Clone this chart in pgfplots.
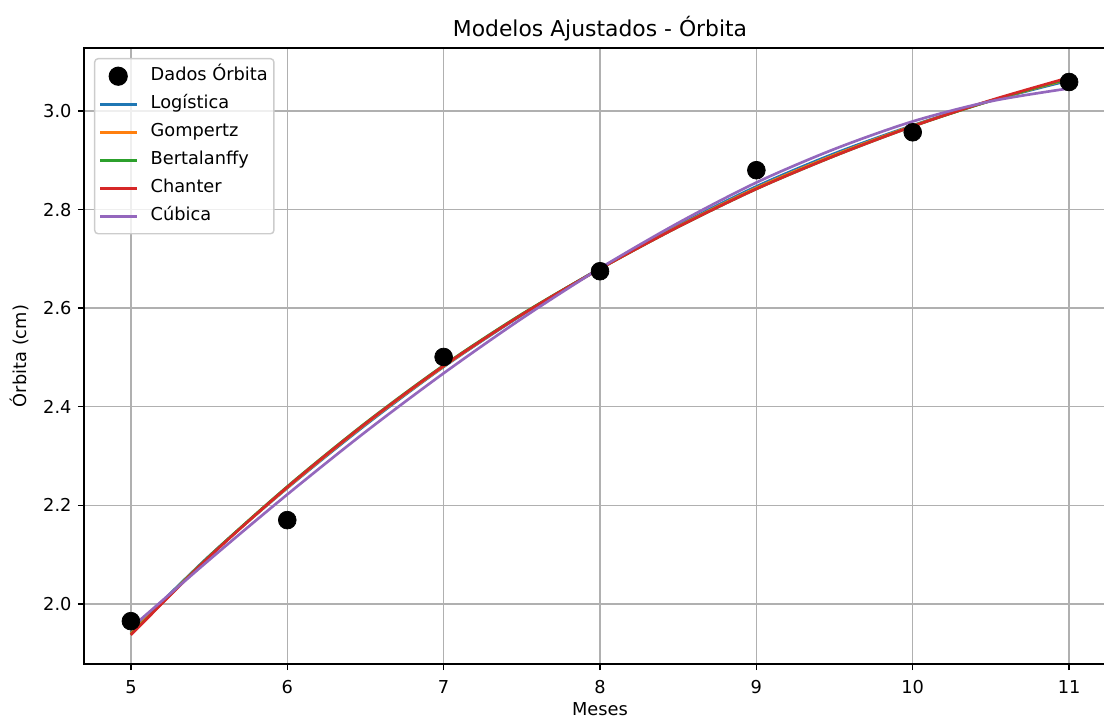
\documentclass[border=0pt]{standalone}
\usepackage{fontspec}
\setmainfont{DejaVu Sans}
\usepackage{pgfplots}
\pgfplotsset{compat=1.18}
\usepackage{pgfplotstable}

\definecolor{c0}{HTML}{1F77B4}
\definecolor{c1}{HTML}{FF7F0E}
\definecolor{c2}{HTML}{2CA02C}
\definecolor{c3}{HTML}{D62728}
\definecolor{c4}{HTML}{9467BD}
\definecolor{gridc}{HTML}{B0B0B0}
\definecolor{legc}{HTML}{CCCCCC}

\pgfplotsset{
  legline/.style={legend image code/.code={\draw[##1] (0pt,0pt) -- (20.5pt,0pt);}},
  legdot/.style={legend image code/.code={\draw[##1, fill opacity=1, draw opacity=1, mark repeat=2, mark phase=2] plot coordinates {(0pt,0pt) (10pt,0pt) (20.5pt,0pt)};}},
}

\pgfplotstableread{
x y
5 1.965
6 2.170
7 2.501
8 2.675
9 2.880
10 2.957
11 3.059
}\dados

\pgfplotstableread{
x log gom ber cha cub
5.0 1.942 1.940 1.938 1.937 1.951
5.5 2.097 2.096 2.096 2.095 2.089
6.0 2.235 2.236 2.238 2.237 2.222
6.5 2.363 2.365 2.367 2.366 2.349
7.0 2.481 2.482 2.484 2.483 2.468
7.5 2.586 2.587 2.588 2.587 2.579
8.0 2.681 2.680 2.680 2.680 2.681
8.5 2.768 2.766 2.765 2.765 2.773
9.0 2.847 2.844 2.842 2.842 2.855
9.5 2.914 2.911 2.909 2.909 2.923
10.0 2.971 2.970 2.969 2.969 2.979
10.5 3.021 3.021 3.021 3.022 3.020
11.0 3.062 3.065 3.066 3.068 3.046
}\modelos

\begin{document}
\begin{tikzpicture}
\begin{axis}[
  name=ax,
  scale only axis,
  width=580.5pt, height=346.5pt,
  xmin=4.7, xmax=11.3, ymin=1.878, ymax=3.128,
  xtick={5,6,7,8,9,10,11},
  ytick={2.0,2.2,2.4,2.6,2.8,3.0},
  yticklabel style={/pgf/number format/.cd, fixed, fixed zerofill, precision=1},
  /pgf/number format/assume math mode=true,
  tick label style={font=\fontsize{10}{12}\selectfont, text=black},
  xticklabel style={yshift=-2pt},
  grid=major,
  major grid style={color=gridc, line width=0.8pt},
  axis line style={line width=0.8pt, black},
  tick style={line width=0.8pt, black},
  tick align=outside,
  major tick length=3.5pt,
  xtick pos=bottom, ytick pos=left,
  title={Modelos Ajustados - Órbita},
  every axis title/.style={at={(axis description cs:0.5,1)}, anchor=base, yshift=6.2pt, font=\fontsize{12.3}{14}\selectfont},
  xlabel={Meses},
  every axis x label/.style={at={(axis description cs:0.5,0)}, anchor=base, yshift=-29.1pt, font=\fontsize{10}{12}\selectfont},
  ylabel={Órbita (cm)},
  every axis y label/.style={at={(axis description cs:-0.0562,0.5)}, rotate=90, anchor=base, font=\fontsize{10}{12}\selectfont},
  legend cell align=left,
  legend style={at={(axis description cs:0,1)}, xshift=5.6pt, yshift=-5.6pt, anchor=north west,
    draw=legc, line width=0.8pt, rounded corners=2pt, fill=white, fill opacity=0.8, text opacity=1,
    font=\fontsize{10}{12}\selectfont, row sep=4pt, inner xsep=2.5pt, inner ysep=4pt,
    /tikz/every odd column/.append style={column sep=6pt},
    nodes={inner sep=1pt, text height=7.5pt, text depth=2.25pt}},
  legline,
]
\addplot[only marks, mark=*, mark size=5pt, black, legdot] table[x=x, y=y]{\dados};
\addlegendentry{Dados Órbita}
\addplot[c0, line width=1.5pt, smooth, no markers] table[x=x, y=log]{\modelos};
\addlegendentry{Logística}
\addplot[c1, line width=1.5pt, smooth, no markers] table[x=x, y=gom]{\modelos};
\addlegendentry{Gompertz}
\addplot[c2, line width=1.5pt, smooth, no markers] table[x=x, y=ber]{\modelos};
\addlegendentry{Bertalanffy}
\addplot[c3, line width=1.5pt, smooth, no markers] table[x=x, y=cha]{\modelos};
\addlegendentry{Chanter}
\addplot[c4, line width=1.5pt, smooth, no markers] table[x=x, y=cub]{\modelos};
\addlegendentry{Cúbica}
\end{axis}
\pgfresetboundingbox
\path[use as bounding box] ([shift={(-47.25pt,-30.4pt)}]ax.south west) rectangle ([shift={(-6.75pt,27pt)}]ax.north east);
\end{tikzpicture}
\end{document}
